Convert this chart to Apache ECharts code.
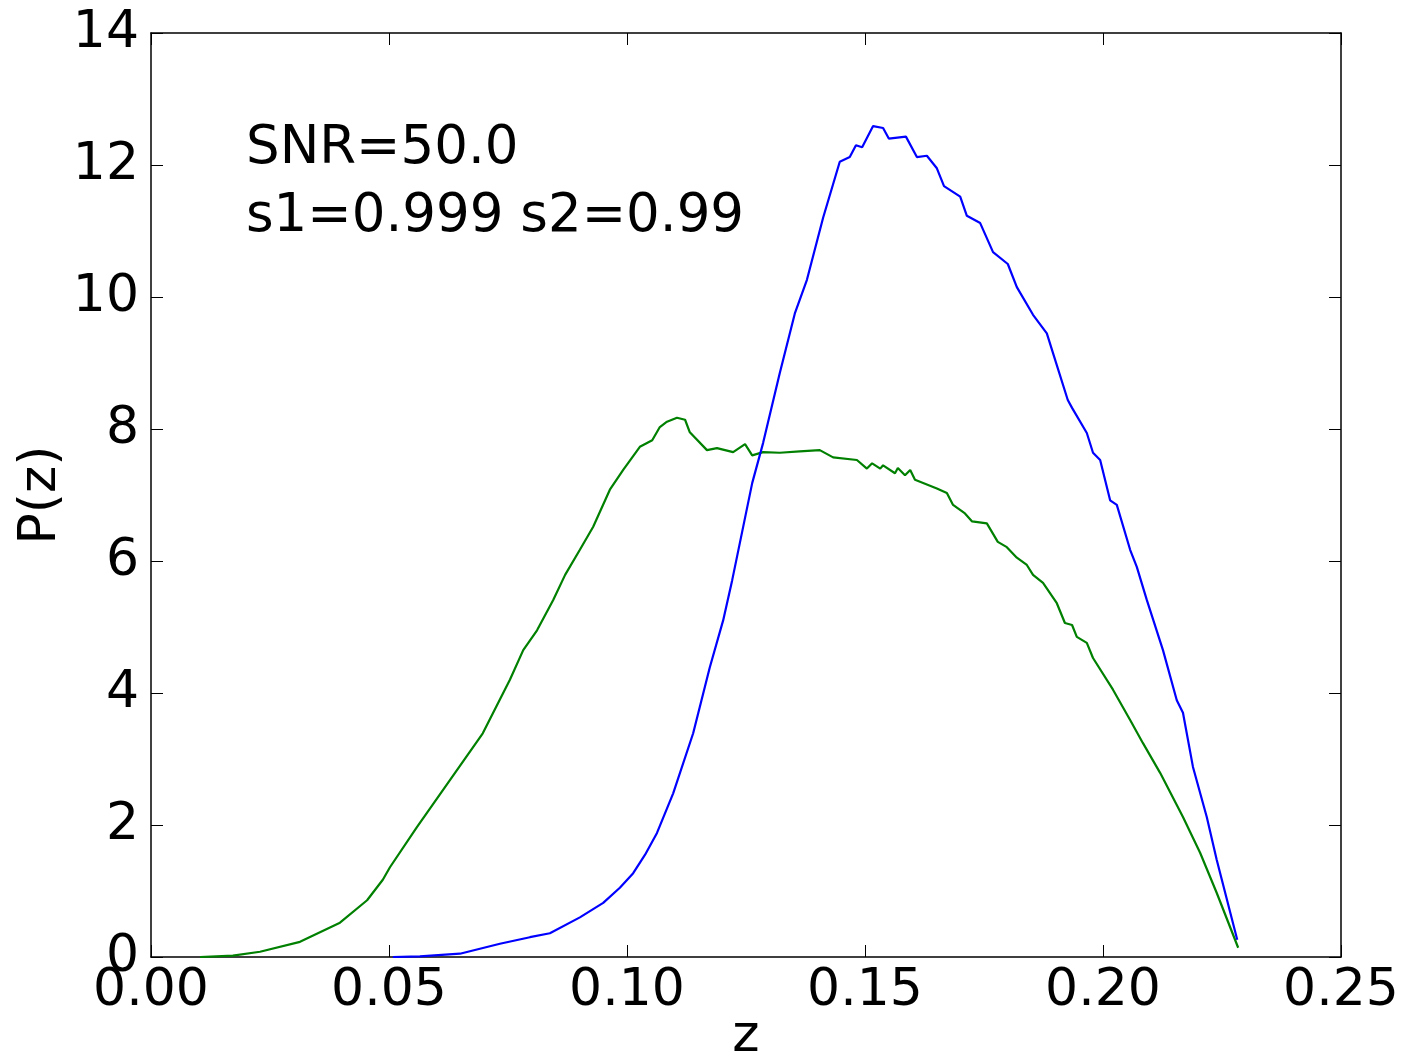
<!DOCTYPE html>
<html>
<head>
<meta charset="utf-8">
<script src="https://cdn.jsdelivr.net/npm/echarts@6/dist/echarts.min.js"></script>
<style>
html,body{margin:0;padding:0;background:#fff;}
#chart{width:1409px;height:1058px;}
</style>
</head>
<body>
<div id="chart"></div>
<script>
// ---- data ----
const xTicks = [0, 0.05, 0.10, 0.15, 0.20, 0.25];
const yTicks = [0, 2, 4, 6, 8, 10, 12, 14];

const greenZ = [0.0103,0.0172,0.0229,0.0313,0.0397,0.0454,0.0487,0.0502,0.0559,0.0628,0.0697,0.0754,0.0782,0.0811,0.0845,0.0870,0.0901,0.0929,0.0964,0.0992,0.1027,0.1053,0.1069,0.1084,0.1105,0.1122,0.1132,0.1168,0.1189,0.1223,0.1248,0.1263,0.1286,0.1321,0.1363,0.1405,0.1433,0.1483,0.1504,0.1515,0.1532,0.1538,0.1563,0.1569,0.1584,0.1595,0.1605,0.1651,0.1672,0.1685,0.1710,0.1725,0.1756,0.1779,0.1798,0.1819,0.1840,0.1853,0.1874,0.1903,0.1920,0.1935,0.1945,0.1966,0.1979,0.2021,0.2057,0.2084,0.2120,0.2168,0.2204,0.2239,0.2284];
const greenP = [0,0.02,0.08,0.23,0.52,0.86,1.17,1.36,1.97,2.68,3.39,4.2,4.65,4.95,5.41,5.79,6.17,6.52,7.08,7.38,7.73,7.83,8.03,8.11,8.17,8.14,7.95,7.68,7.71,7.65,7.77,7.6,7.65,7.64,7.66,7.68,7.57,7.53,7.4,7.48,7.4,7.45,7.33,7.41,7.3,7.38,7.23,7.1,7.03,6.85,6.72,6.6,6.57,6.29,6.21,6.05,5.94,5.79,5.67,5.36,5.06,5.03,4.85,4.76,4.53,4.05,3.59,3.24,2.79,2.12,1.58,0.97,0.14];

const blueZ = [0.0508,0.0565,0.0649,0.0733,0.0796,0.0838,0.0901,0.0950,0.0985,0.1013,0.1038,0.1063,0.1097,0.1139,0.1174,0.1202,0.1221,0.1263,0.1286,0.1321,0.1353,0.1378,0.1412,0.1447,0.1468,0.1481,0.1494,0.1517,0.1538,0.1550,0.1586,0.1609,0.1630,0.1651,0.1666,0.1700,0.1714,0.1742,0.1769,0.1800,0.1819,0.1853,0.1882,0.1895,0.1926,0.1935,0.1966,0.1979,0.1994,0.2015,0.2029,0.2057,0.2071,0.2092,0.2126,0.2155,0.2168,0.2189,0.2218,0.2239,0.2282];
const blueP = [0,0.01,0.05,0.2,0.3,0.36,0.6,0.82,1.05,1.27,1.55,1.88,2.48,3.39,4.39,5.1,5.71,7.18,7.79,8.85,9.76,10.26,11.2,12.05,12.12,12.3,12.27,12.59,12.56,12.4,12.43,12.12,12.14,11.95,11.68,11.52,11.23,11.12,10.68,10.5,10.15,9.73,9.45,9.15,8.44,8.32,7.94,7.64,7.53,6.92,6.85,6.17,5.91,5.41,4.65,3.89,3.7,2.88,2.12,1.47,0.26];

const annotation = ['SNR=50.0', 's1=0.999 s2=0.99'];
// --------------------------------------

const pairs = (xs, ys) => xs.map((x, i) => [x, ys[i]]);
const FONT = 'DejaVu Sans';
const chart = echarts.init(document.getElementById('chart'), null, {renderer: 'canvas'});

const baseX = {
  type: 'value', min: xTicks[0], max: xTicks[xTicks.length - 1], interval: 0.05,
  axisLine: {show: true, onZero: false, lineStyle: {color: '#000', width: 1.5}},
  axisTick: {show: true, inside: true, length: 12, lineStyle: {color: '#000', width: 1}},
  splitLine: {show: false}
};
const baseY = {
  type: 'value', min: yTicks[0], max: yTicks[yTicks.length - 1], interval: 2,
  axisLine: {show: true, onZero: false, lineStyle: {color: '#000', width: 1.5}},
  axisTick: {show: true, inside: true, length: 12, lineStyle: {color: '#000', width: 1}},
  splitLine: {show: false}
};

chart.setOption({
  backgroundColor: '#fff',
  animation: false,
  grid: {left: 151, right: 68, top: 33, bottom: 101, containLabel: false, outerBoundsMode: 'none'},
  title: {
    text: annotation.join('\n'),
    left: 241, top: 110,
    textStyle: {fontFamily: FONT, fontSize: 53, fontWeight: 'normal', color: '#000', lineHeight: 68}
  },
  xAxis: [
    Object.assign({}, baseX, {
      position: 'bottom',
      name: 'z', nameLocation: 'middle', nameGap: 54, nameMoveOverlap: false,
      nameTextStyle: {fontFamily: FONT, fontSize: 52, color: '#000'},
      axisLabel: {show: true, margin: 8, fontFamily: FONT, fontSize: 52, color: '#000',
        formatter: v => v.toFixed(2)}
    }),
    Object.assign({}, baseX, {position: 'top', axisLabel: {show: false}})
  ],
  yAxis: [
    Object.assign({}, baseY, {
      position: 'left',
      name: 'P(z)', nameLocation: 'middle', nameGap: 84, nameRotate: 90, nameMoveOverlap: false,
      nameTextStyle: {fontFamily: FONT, fontSize: 52, color: '#000'},
      axisLabel: {show: true, margin: 12, fontFamily: FONT, fontSize: 52, color: '#000',
        formatter: v => String(v)}
    }),
    Object.assign({}, baseY, {position: 'right', axisLabel: {show: false}})
  ],
  series: [
    {type: 'line', name: 'green', data: pairs(greenZ, greenP), showSymbol: false, symbol: 'none',
      lineStyle: {color: '#008000', width: 2.2}, z: 2},
    {type: 'line', name: 'blue', data: pairs(blueZ, blueP), showSymbol: false, symbol: 'none',
      lineStyle: {color: '#0000ff', width: 2.2}, z: 3}
  ]
});
</script>
</body>
</html>
